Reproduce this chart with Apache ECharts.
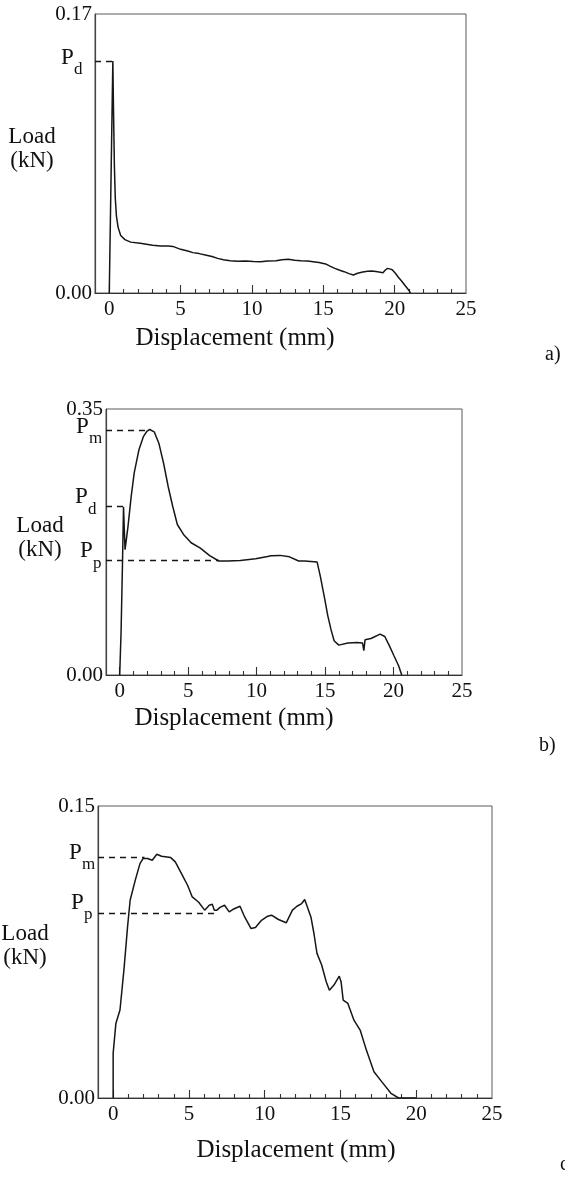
<!DOCTYPE html>
<html>
<head>
<meta charset="utf-8">
<script src="https://cdn.jsdelivr.net/npm/echarts@6/dist/echarts.min.js"></script>
<style>
  html, body { margin: 0; padding: 0; background: #fff; }
  #chart { width: 565px; height: 1180px; }
</style>
</head>
<body>
<div id="chart"></div>
<script>
// shared x axis (mm)
const xTickLabels = [0, 5, 10, 15, 20, 25];
const xMajorTicks = [0, 5, 10, 15, 20];
const xMinorTicks = [1, 2, 3, 4, 6, 7, 8, 9, 11, 12, 13, 14, 16, 17, 18, 19, 21, 22, 23, 24];

// a)
const dispA = [0, 0.25, 0.3, 0.36, 0.42, 0.5, 0.62, 0.8, 1.1, 1.5, 2.17, 3.04, 3.6, 4.13, 4.46, 5.0, 5.5, 5.86, 6.3, 6.73, 7.2, 7.6, 8.0, 8.47, 9.0, 9.56, 10.1, 10.6, 11.1, 11.69, 12.1, 12.55, 13.0, 13.42, 13.9, 14.29, 14.7, 15.16, 15.5, 15.81, 16.1, 16.46, 16.8, 17.11, 17.4, 17.77, 18.1, 18.42, 18.8, 19.18, 19.35, 19.5, 19.65, 19.83, 20.05, 20.26, 20.5, 20.7, 21.02, 21.1];
const loadA = [0, 0.1414, 0.11, 0.077, 0.058, 0.047, 0.040, 0.035, 0.0325, 0.031, 0.0303, 0.0291, 0.0287, 0.0286, 0.0284, 0.0266, 0.0256, 0.0246, 0.0240, 0.0232, 0.0222, 0.0211, 0.0203, 0.0197, 0.0193, 0.0195, 0.0192, 0.0191, 0.0195, 0.0197, 0.0203, 0.0205, 0.0200, 0.0197, 0.0195, 0.0191, 0.0186, 0.0177, 0.0162, 0.015, 0.0140, 0.013, 0.0118, 0.011, 0.0120, 0.0128, 0.0132, 0.0134, 0.0129, 0.0124, 0.0140, 0.015, 0.0147, 0.0142, 0.012, 0.0096, 0.0072, 0.0049, 0.0014, 0];
const yMaxA = 0.17;
const refNamesA = ['d'];
const refLoadsA = [0.1414];
const refEndsA = [0.25];

// b)
const dispB = [0, 0.1, 0.21, 0.28, 0.34, 0.39, 0.5, 0.61, 0.84, 1.06, 1.4, 1.74, 2.0, 2.19, 2.52, 2.86, 3.2, 3.54, 3.87, 4.21, 4.66, 5.22, 5.89, 6.57, 7.24, 7.91, 8.81, 9.93, 10.8, 11.05, 11.72, 12.4, 13.07, 13.5, 14.42, 14.65, 14.98, 15.2, 15.43, 15.66, 16.0, 16.67, 17.34, 17.74, 17.83, 17.92, 18.35, 19.02, 19.36, 19.7, 20.03, 20.37, 20.6];
const loadB = [0, 0.056, 0.152, 0.2215, 0.19, 0.165, 0.18, 0.196, 0.235, 0.266, 0.296, 0.314, 0.321, 0.323, 0.320, 0.305, 0.279, 0.248, 0.222, 0.198, 0.185, 0.174, 0.167, 0.157, 0.150, 0.150, 0.1507, 0.153, 0.156, 0.157, 0.1574, 0.1555, 0.150, 0.150, 0.1486, 0.130, 0.0996, 0.0778, 0.060, 0.045, 0.0393, 0.042, 0.0428, 0.042, 0.0319, 0.0463, 0.048, 0.0537, 0.0507, 0.0384, 0.0253, 0.0122, 0];
const yMaxB = 0.35;
const refNamesB = ['m', 'd', 'p'];
const refLoadsB = [0.3225, 0.2219, 0.1511];
const refEndsB = [2.19, 0.28, 7.24];

// c)
const dispC = [0, 0, 0.18, 0.45, 0.71, 0.95, 1.12, 1.46, 1.77, 1.97, 2.27, 2.58, 2.88, 3.19, 3.8, 4.1, 4.51, 4.91, 5.22, 5.63, 6.04, 6.34, 6.54, 6.68, 6.85, 7.05, 7.35, 7.66, 7.96, 8.37, 8.68, 9.09, 9.39, 9.79, 10.2, 10.45, 10.91, 11.42, 11.83, 12.13, 12.44, 12.64, 13.05, 13.25, 13.45, 13.76, 14.06, 14.27, 14.57, 14.92, 15.04, 15.18, 15.49, 15.89, 16.3, 16.71, 17.21, 17.72, 18.33, 18.84, 20.0];
const loadC = [0, 0.0229, 0.0383, 0.0452, 0.0657, 0.0879, 0.1016, 0.1119, 0.1204, 0.123, 0.123, 0.1221, 0.1252, 0.1242, 0.1235, 0.1213, 0.1153, 0.1093, 0.1033, 0.1007, 0.0965, 0.099, 0.0995, 0.0965, 0.0965, 0.0979, 0.099, 0.0956, 0.0971, 0.0985, 0.093, 0.0871, 0.0876, 0.0913, 0.0934, 0.0939, 0.0917, 0.090, 0.0965, 0.0985, 0.0999, 0.102, 0.093, 0.0845, 0.0743, 0.0683, 0.0597, 0.0554, 0.058, 0.0626, 0.0597, 0.0503, 0.0486, 0.040, 0.0349, 0.0246, 0.0135, 0.0084, 0.0024, 0, 0];
const yMaxC = 0.15;
const refNamesC = ['m', 'p'];
const refLoadsC = [0.1238, 0.0948];
const refEndsC = [2.07, 6.85];

const panels = [
  { disp: dispA, load: loadA, yMax: yMaxA, refNames: refNamesA, refLoads: refLoadsA, refEnds: refEndsA },
  { disp: dispB, load: loadB, yMax: yMaxB, refNames: refNamesB, refLoads: refLoadsB, refEnds: refEndsB },
  { disp: dispC, load: loadC, yMax: yMaxC, refNames: refNamesC, refLoads: refLoadsC, refEnds: refEndsC }
];

// layout only
const FONT = "'Liberation Serif', 'Times New Roman', serif";
const INK = '#111';
const layout = [
  { grid: { left: 95, top: 14, width: 371, height: 279 }, loadAt: [32, 149], xNameAt: [235, 338], tag: 'a)', tagAt: [545, 355],
    pLeft: [61], pDy: [-3] },
  { grid: { left: 106, top: 409, width: 356, height: 266 }, loadAt: [40, 538], xNameAt: [234, 718], tag: 'b)', tagAt: [539, 746],
    pLeft: [76, 75, 80], pDy: [-3, -9, -9] },
  { grid: { left: 98, top: 806, width: 394, height: 292 }, loadAt: [25, 946], xNameAt: [296, 1150], tag: 'c)', tagAt: [560, 1165],
    pLeft: [69, 71], pDy: [-4, -11] }
];

const chart = echarts.init(document.getElementById('chart'));

const grids = [], xAxes = [], yAxes = [], series = [];
panels.forEach((p, g) => {
  grids.push(Object.assign({ show: true, borderColor: '#5a5a5a', borderWidth: 1, backgroundColor: 'transparent' }, layout[g].grid));
  xAxes.push({
    type: 'value', gridIndex: g, position: 'bottom', min: -1, max: 25,
    axisLine: { show: true, onZero: false, lineStyle: { color: '#333', width: 1.2 } },
    axisTick: { show: true, inside: true, length: 4, customValues: xMinorTicks, lineStyle: { color: '#333', width: 1.1 } },
    axisLabel: { show: true, customValues: xTickLabels, margin: 6, fontFamily: FONT, fontSize: 21, color: INK },
    splitLine: { show: false }
  });
  xAxes.push({
    type: 'value', gridIndex: g, position: 'bottom', min: -1, max: 25,
    axisLine: { show: false, onZero: false },
    axisTick: { show: true, inside: true, length: 8, customValues: xMajorTicks, lineStyle: { color: '#333', width: 1.1 } },
    axisLabel: { show: false },
    splitLine: { show: false }
  });
  yAxes.push({
    type: 'value', gridIndex: g, position: 'left', min: 0, max: p.yMax, interval: p.yMax,
    axisLine: { show: true, onZero: false, lineStyle: { color: '#444', width: 1.2 } },
    axisTick: { show: false },
    axisLabel: { margin: 3, fontFamily: FONT, fontSize: 21, color: INK, formatter: v => v.toFixed(2) },
    splitLine: { show: false }
  });
  series.push({
    type: 'line', xAxisIndex: g * 2, yAxisIndex: g,
    data: p.disp.map((d, i) => [d, p.load[i]]),
    showSymbol: false, symbol: 'none',
    lineStyle: { color: '#161616', width: 1.5 },
    markLine: {
      silent: true, symbol: ['none', 'none'], label: { show: false },
      lineStyle: { type: [6, 5], color: '#161616', width: 1.4 },
      data: p.refLoads.map((v, i) => [{ coord: [-1, v] }, { coord: [p.refEnds[i], v] }])
    }
  });
});

chart.setOption({
  animation: false,
  grid: grids,
  xAxis: xAxes,
  yAxis: yAxes,
  series: series
});

// annotation texts, placed through the axis scales
const graphics = [];
panels.forEach((p, g) => {
  const L = layout[g];
  graphics.push({
    type: 'text', x: L.loadAt[0], y: L.loadAt[1],
    style: { text: 'Load\n(kN)', font: '23px ' + FONT, fill: INK, align: 'center', verticalAlign: 'middle', lineHeight: 24 }
  });
  graphics.push({
    type: 'text', x: L.xNameAt[0], y: L.xNameAt[1],
    style: { text: 'Displacement (mm)', font: '25px ' + FONT, fill: INK, align: 'center', verticalAlign: 'middle' }
  });
  graphics.push({
    type: 'text', x: L.tagAt[0], y: L.tagAt[1],
    style: { text: L.tag, font: '20px ' + FONT, fill: INK, align: 'left', verticalAlign: 'middle' }
  });
  p.refNames.forEach((n, i) => {
    const pt = chart.convertToPixel({ gridIndex: g }, [-1, p.refLoads[i]]);
    const cy = pt[1] + L.pDy[i];
    graphics.push({
      type: 'text', x: L.pLeft[i], y: cy,
      style: { text: 'P', font: '23px ' + FONT, fill: INK, align: 'left', verticalAlign: 'middle' }
    });
    graphics.push({
      type: 'text', x: L.pLeft[i] + 13, y: cy + 12,
      style: { text: n, font: '17px ' + FONT, fill: INK, align: 'left', verticalAlign: 'middle' }
    });
  });
});
chart.setOption({ graphic: graphics });
</script>
</body>
</html>
